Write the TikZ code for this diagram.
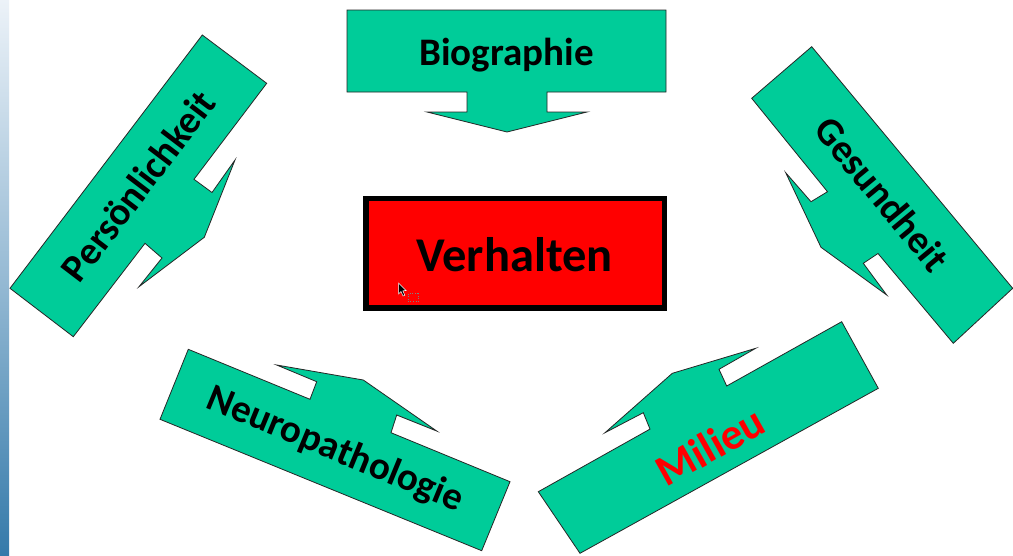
\documentclass[tikz,border=0pt]{standalone}
\usepackage{fontspec}
\setmainfont{Carlito}
\definecolor{calloutgreen}{RGB}{0,204,153}
\definecolor{stripTop}{RGB}{236,242,248}
\definecolor{stripMid}{RGB}{150,186,212}
\definecolor{stripBot}{RGB}{52,122,170}
\begin{document}
\begin{tikzpicture}[x=1pt,y=-1pt,
  callout/.style={fill=calloutgreen,draw=black!85,line width=0.8pt,line join=miter},
  lab/.style={font=\fontsize{39}{44}\selectfont\bfseries,inner sep=0pt},
  core/.style={fill=red,draw=black,line width=5.5pt}]
\useasboundingbox (0,0) rectangle (1013,555);
\fill[white] (0,0) rectangle (1013,555);
% slide edge strip
\shade[top color=stripTop,bottom color=stripBot,middle color=stripMid] (0,0) rectangle (9,555);

% Biographie (pointing down)
\draw[callout] (347,10) -- (666,10) -- (666,92) -- (547,92) -- (547,112) -- (587,112)
  -- (507,132) -- (427,112) -- (467,112) -- (467,92) -- (347,92) -- cycle;
\node[lab,anchor=base] (bio) at (506.5,65) {Biographie};

% Persoenlichkeit (pointing down-right)
\draw[callout] (202.3,35) -- (266.7,83.3) -- (194,179.3) -- (212,192.5) -- (235,160)
  -- (204.3,237.3) -- (139,286.7) -- (162,258) -- (145,243.3) -- (73.3,336.7)
  -- (10,288.3) -- cycle;
\node[lab,rotate=52.7] (pers) at (138.1,185.8) {Persönlichkeit};

% Gesundheit (pointing down-left)
\draw[callout] (811.7,46.7) -- (1012.7,288.3) -- (953.3,343.3) -- (878,253.5)
  -- (863.3,263.3) -- (886.7,295) -- (821,247.3) -- (785.7,172.7) -- (811,201.7)
  -- (827.5,191.7) -- (751.7,98.3) -- cycle;
\node[lab,rotate=-50.4] (ges) at (882.4,194.2) {Gesundheit};

% Neuropathologie (pointing up)
\draw[callout] (188.3,349.3) -- (310,399.3) -- (316.7,381.7) -- (276.7,365)
  -- (363.3,380) -- (436.7,431) -- (396.7,415) -- (391,432.7) -- (510,481.7)
  -- (481.7,550.7) -- (160,419.3) -- cycle;
\node[lab,rotate=-22.4] (neuro) at (335,450.2) {Neuropathologie};

% Milieu (pointing up-left)
\draw[callout] (538.3,491.7) -- (650,429.1) -- (643.3,412.7) -- (605,432.7)
  -- (672.3,373.3) -- (755.7,348.3) -- (719,369.3) -- (726.7,386) -- (841.7,321.7)
  -- (878.3,388.3) -- (580,553.3) -- cycle;
\node[lab,font=\fontsize{44}{50}\selectfont\bfseries,rotate=29.3,text=red] (mil) at (710,446) {Milieu};

% central box
\draw[core] (366,198.5) rectangle (664.5,308);
\node[font=\fontsize{48.5}{54}\selectfont\bfseries,anchor=base,inner sep=0pt] (verh) at (514.5,271) {Verhalten};

% mouse pointer
\draw[fill=black,draw=white,line width=0.5pt] (398.5,283) -- (398.5,294) -- (401,291.5)
  -- (403,296) -- (404.8,295.2) -- (402.8,290.8) -- (406.2,290.6) -- cycle;
\draw[gray,dotted,line width=0.6pt] (408,293.5) rectangle (418,301.5);
\end{tikzpicture}
\end{document}
